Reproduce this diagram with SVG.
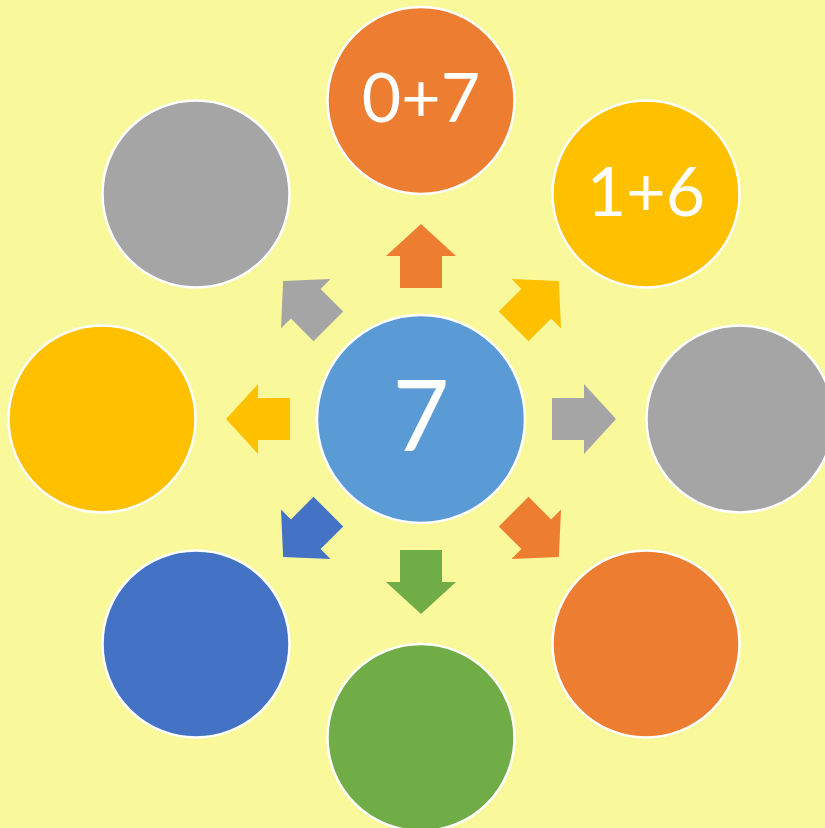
<svg xmlns="http://www.w3.org/2000/svg" width="825" height="828" viewBox="0 0 825 828">
<style>
.c{stroke:#fff;stroke-width:2.5}
.t{font-family:Lato,"Open Sans","Liberation Sans",sans-serif;fill:#fff;text-anchor:middle}
.or{fill:#ED7D31}.ye{fill:#FFC000}.gr{fill:#A5A5A5}.bl{fill:#4472C4}.gn{fill:#70AD47}.lb{fill:#5B9BD5}
</style>
<defs>
<path id="arr" d="M131,-21 L163,-21 L163,-35 L195,0 L163,35 L163,21 L131,21 Z"/>
</defs>
<rect width="825" height="828" fill="#F9F99B"/>
<g id="connectors">
<use href="#arr" class="or" transform="translate(421,419) rotate(-90)"/>
<use href="#arr" class="ye" transform="translate(421,419) rotate(-45)"/>
<use href="#arr" class="gr" transform="translate(421,419) rotate(0)"/>
<use href="#arr" class="or" transform="translate(421,419) rotate(45)"/>
<use href="#arr" class="gn" transform="translate(421,419) rotate(90)"/>
<use href="#arr" class="bl" transform="translate(421,419) rotate(135)"/>
<use href="#arr" class="ye" transform="translate(421,419) rotate(180)"/>
<use href="#arr" class="gr" transform="translate(421,419) rotate(-135)"/>
</g>
<g id="center"><circle class="c lb" cx="421" cy="419" r="104"/><text class="t" x="421" y="451" font-size="98">7</text></g>
<g id="n-top"><circle class="c or" cx="421" cy="100.5" r="93.5"/><text class="t" x="421" y="122" font-size="68">0+7</text></g>
<g id="n-tr"><circle class="c ye" cx="646" cy="194" r="93.5"/><text class="t" x="646" y="216" font-size="68">1+6</text></g>
<g id="n-r"><circle class="c gr" cx="740" cy="419" r="93.5"/></g>
<g id="n-br"><circle class="c or" cx="646" cy="644" r="93.5"/></g>
<g id="n-b"><circle class="c gn" cx="421" cy="737.5" r="93.5"/></g>
<g id="n-bl"><circle class="c bl" cx="196" cy="644" r="93.5"/></g>
<g id="n-l"><circle class="c ye" cx="102" cy="419" r="93.5"/></g>
<g id="n-tl"><circle class="c gr" cx="196" cy="194" r="93.5"/></g>
</svg>
